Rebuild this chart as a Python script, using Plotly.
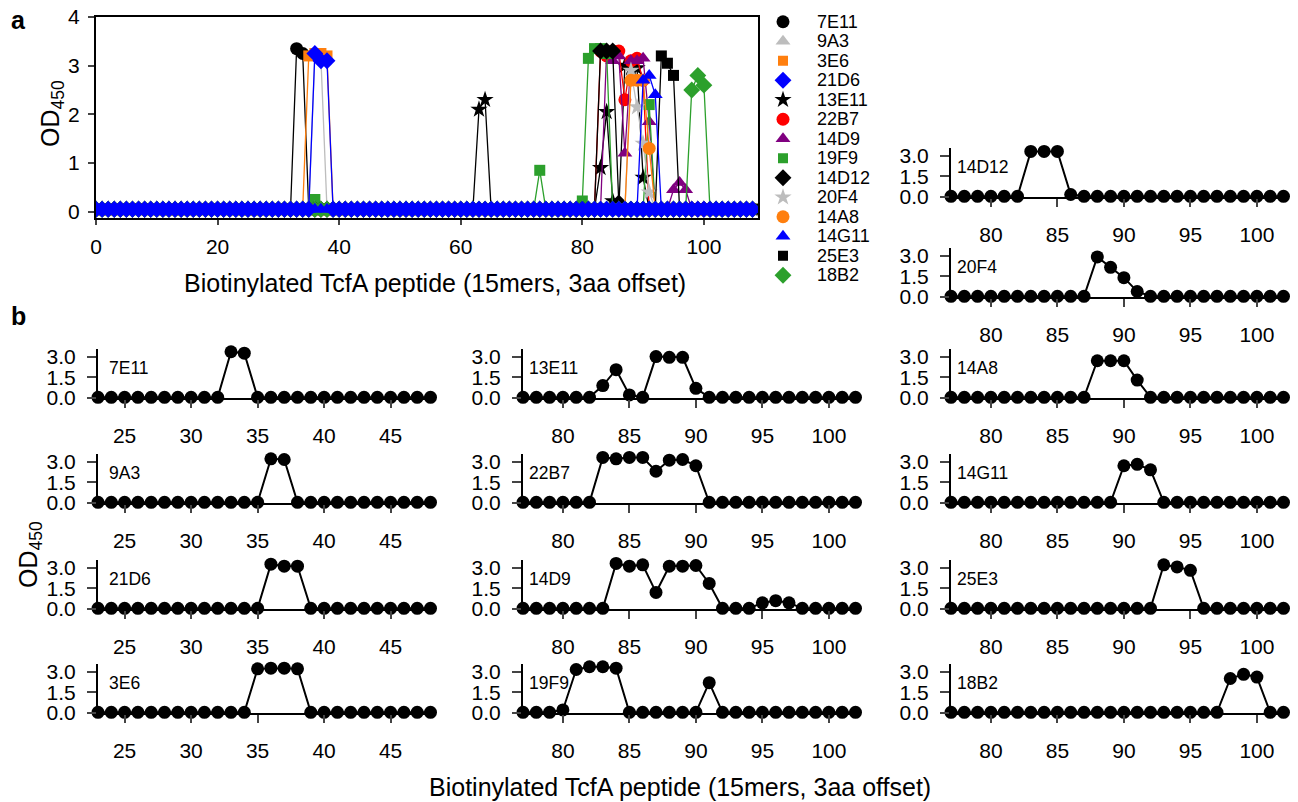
import plotly.graph_objects as go

W, H = 1298, 802
FONT = "Liberation Sans, Arial, Helvetica, sans-serif"

# ---------------- data ----------------
PEPTIDES = list(range(0, 109))
BASELINE_OD = 0.05

ANTIBODIES = ["7E11", "9A3", "3E6", "21D6", "13E11", "22B7", "14D9",
              "19F9", "14D12", "20F4", "14A8", "14G11", "25E3", "18B2"]
COLORS = ["#000000", "#bdbdbd", "#ff7f0e", "#0000ff", "#000000", "#ff0000", "#800080",
          "#2ca02c", "#000000", "#bdbdbd", "#ff7f0e", "#0000ff", "#000000", "#2ca02c"]
SYMBOLS = ["circle", "triangle-up", "square", "diamond", "star", "circle", "triangle-up",
           "square", "diamond", "star", "circle", "triangle-up", "square", "diamond"]

# (peptide, OD450) readings that differ from the baseline
PEAKS_7E11 = [(33, 3.35), (34, 3.25)]
PEAKS_9A3 = [(36, 3.2), (37, 3.15)]
PEAKS_3E6 = [(35, 3.2), (36, 3.25), (37, 3.25), (38, 3.2)]
PEAKS_21D6 = [(36, 3.25), (37, 3.1), (38, 3.1)]
PEAKS_13E11 = [(63, 2.1), (64, 2.3), (83, 0.9), (84, 2.05), (85, 0.22), (87, 3.0),
               (88, 2.95), (89, 2.95), (90, 0.7)]
PEAKS_22B7 = [(83, 3.3), (84, 3.2), (85, 3.3), (86, 3.3), (87, 2.3), (88, 3.1),
              (89, 3.15), (90, 2.7)]
PEAKS_14D9 = [(84, 3.3), (85, 3.1), (86, 3.2), (87, 1.2), (88, 3.1), (89, 3.1),
              (90, 3.15), (91, 1.85), (95, 0.45), (96, 0.6), (97, 0.45)]
PEAKS_19F9 = [(36, 0.25), (73, 0.85), (80, 0.22), (81, 3.15), (82, 3.35), (83, 3.35),
              (84, 3.25), (91, 2.2)]
PEAKS_14D12 = [(83, 3.3), (84, 3.3), (85, 3.3), (86, 0.18)]
PEAKS_20F4 = [(88, 2.9), (89, 2.15), (90, 1.4), (91, 0.4)]
PEAKS_14A8 = [(88, 2.7), (89, 2.7), (90, 2.7), (91, 1.3)]
PEAKS_14G11 = [(90, 2.7), (91, 2.8), (92, 2.4)]
PEAKS_25E3 = [(93, 3.2), (94, 3.05), (95, 2.8)]
PEAKS_18B2 = [(98, 2.5), (99, 2.8), (100, 2.6)]

PEAKS = [PEAKS_7E11, PEAKS_9A3, PEAKS_3E6, PEAKS_21D6, PEAKS_13E11, PEAKS_22B7,
         PEAKS_14D9, PEAKS_19F9, PEAKS_14D12, PEAKS_20F4, PEAKS_14A8, PEAKS_14G11,
         PEAKS_25E3, PEAKS_18B2]

# panel a axis ticks
TICKS_A_X = [0, 20, 40, 60, 80, 100]
TICKS_A_Y = [0, 1, 2, 3, 4]

# panel b layout / ticks
B_LEFT = ["7E11", "9A3", "21D6", "3E6"]
B_MIDDLE = ["13E11", "22B7", "14D9", "19F9"]
B_RIGHT = ["14A8", "14G11", "25E3", "18B2"]
B_TOP_RIGHT = ["14D12", "20F4"]
WINDOW_LEFT = [23, 48]
WINDOW_RIGHT = [77, 102]
TICKS_LEFT = [25, 30, 35, 40, 45]
TICKS_RIGHT = [80, 85, 90, 95, 100]
TICKS_B_Y = [0, 1.5, 3.0]
TICKTEXT_B_Y = ["0.0", "1.5", "3.0"]

X_TITLE = "Biotinylated TcfA peptide (15mers, 3aa offset)"
Y_TITLE = "OD<sub>450</sub>"


def series(peaks):
    vals = {p: v for p, v in peaks}
    return [vals.get(p, BASELINE_OD) for p in PEPTIDES]


SERIES = {ab: series(pk) for ab, pk in zip(ANTIBODIES, PEAKS)}


def fx(px):
    return px / W


def fy(px):
    return 1 - px / H


fig = go.Figure()
layout = dict(
    width=W, height=H, margin=dict(l=0, r=0, t=0, b=0, pad=0, autoexpand=False),
    paper_bgcolor="white", plot_bgcolor="white",
    font=dict(family=FONT, color="black"),
    showlegend=False,
)
annotations = []

# ---------------- panel a ----------------
draw_order = ["7E11", "9A3", "3E6", "13E11", "22B7", "14D9", "19F9", "14D12",
              "20F4", "14A8", "25E3", "18B2", "14G11", "21D6"]
for ab in draw_order:
    i = ANTIBODIES.index(ab)
    fig.add_trace(go.Scatter(
        x=PEPTIDES, y=SERIES[ab], mode="lines+markers", name=ab,
        line=dict(color=COLORS[i], width=1.3),
        marker=dict(symbol=SYMBOLS[i], size=13 if SYMBOLS[i] != "square" else 11,
                    color=COLORS[i]),
        xaxis="x", yaxis="y", showlegend=False, hoverinfo="skip",
    ))

layout["xaxis"] = dict(
    domain=[fx(96), fx(758)], range=[0, 108.9], anchor="y",
    showline=True, linecolor="black", linewidth=1.5, mirror=True,
    ticks="outside", ticklen=5, tickwidth=1.5, tickvals=TICKS_A_X,
    tickfont=dict(size=21), showgrid=False, zeroline=False, ticklabelstandoff=4,
    automargin=False,
)
layout["yaxis"] = dict(
    domain=[fy(218), fy(17)], range=[-0.13, 4.0], anchor="x",
    showline=True, linecolor="black", linewidth=2, mirror=True,
    ticks="outside", ticklen=6, tickwidth=1.5, tickvals=TICKS_A_Y,
    tickfont=dict(size=21), showgrid=False, zeroline=False, ticklabelstandoff=4,
    automargin=False,
)

annotations.append(dict(text="<b>a</b>", x=fx(18), y=fy(20), xref="paper", yref="paper",
                        showarrow=False, font=dict(size=25), xanchor="center", yanchor="middle"))
annotations.append(dict(text="<b>b</b>", x=fx(18), y=fy(316), xref="paper", yref="paper",
                        showarrow=False, font=dict(size=25), xanchor="center", yanchor="middle"))
annotations.append(dict(text=X_TITLE, x=fx(435), y=fy(283), xref="paper", yref="paper",
                        showarrow=False, font=dict(size=25), xanchor="center", yanchor="middle"))
annotations.append(dict(text=Y_TITLE, x=fx(52), y=fy(114), xref="paper", yref="paper",
                        showarrow=False, font=dict(size=25), textangle=-90,
                        xanchor="center", yanchor="middle"))
annotations.append(dict(text=X_TITLE, x=fx(680), y=fy(787), xref="paper", yref="paper",
                        showarrow=False, font=dict(size=25), xanchor="center", yanchor="middle"))
annotations.append(dict(text=Y_TITLE, x=fx(30), y=fy(555), xref="paper", yref="paper",
                        showarrow=False, font=dict(size=25), textangle=-90,
                        xanchor="center", yanchor="middle"))

# ---------------- legend (hidden helper axis) ----------------
layout["xaxis16"] = dict(domain=[fx(770), fx(880)], range=[0, 110], visible=False,
                         anchor="y16", fixedrange=True, automargin=False)
layout["yaxis16"] = dict(domain=[fy(285), fy(12)], range=[13.5, -0.5], visible=False,
                         anchor="x16", fixedrange=True, automargin=False)
for i, ab in enumerate(ANTIBODIES):
    fig.add_trace(go.Scatter(
        x=[13], y=[i], mode="markers",
        marker=dict(symbol=SYMBOLS[i], color=COLORS[i],
                    size=10 if SYMBOLS[i] == "square" else 13),
        xaxis="x16", yaxis="y16", showlegend=False, hoverinfo="skip", cliponaxis=False,
    ))
    annotations.append(dict(text=ab, x=45, y=i, xref="x16", yref="y16", showarrow=False,
                            xanchor="left", yanchor="middle", font=dict(size=18)))

# ---------------- panel b ----------------
PX_PER_UNIT = 13.3
PANEL_H = 49
Y_TOP = 3.55
col_axis_px = {"left": 98, "middle": 523, "right": 951}
col_label_shift = {"left": 9, "middle": 4, "right": 4}
row_zero_px = [398, 503, 609, 713]
top_right_zero_px = [197, 297]

panels = []
for r, ab in enumerate(B_LEFT):
    panels.append((ab, "left", row_zero_px[r], WINDOW_LEFT, TICKS_LEFT))
for r, ab in enumerate(B_MIDDLE):
    panels.append((ab, "middle", row_zero_px[r], WINDOW_RIGHT, TICKS_RIGHT))
for r, ab in enumerate(B_RIGHT):
    panels.append((ab, "right", row_zero_px[r], WINDOW_RIGHT, TICKS_RIGHT))
for r, ab in enumerate(B_TOP_RIGHT):
    panels.append((ab, "right", top_right_zero_px[r], WINDOW_RIGHT, TICKS_RIGHT))

for k, (ab, col, zero_px, win, ticks) in enumerate(panels):
    n = k + 2
    lo, hi = win
    hi_r = hi + 0.3
    x0 = col_axis_px[col]
    x1 = x0 + (hi_r - lo) * PX_PER_UNIT
    xs = [p for p in PEPTIDES if lo <= p <= hi]
    ys = [SERIES[ab][PEPTIDES.index(p)] for p in xs]
    fig.add_trace(go.Scatter(
        x=xs, y=ys, mode="lines+markers",
        line=dict(color="black", width=2),
        marker=dict(symbol="circle", size=13, color="black"),
        xaxis=f"x{n}", yaxis=f"y{n}", showlegend=False, hoverinfo="skip",
        cliponaxis=False,
    ))
    layout[f"xaxis{n}"] = dict(
        domain=[fx(x0), fx(x1)], range=[lo, hi_r], anchor=f"y{n}",
        showline=True, linecolor="black", linewidth=2,
        ticks="outside", ticklen=8, tickwidth=2, tickvals=ticks,
        tickfont=dict(size=21), showgrid=False, zeroline=False, ticklabelstandoff=10,
        automargin=False,
    )
    layout[f"yaxis{n}"] = dict(
        domain=[fy(zero_px), fy(zero_px - PANEL_H)], range=[0, Y_TOP], anchor=f"x{n}",
        showline=True, linecolor="black", linewidth=2,
        ticks="outside", ticklen=9, tickwidth=2, tickvals=TICKS_B_Y, ticktext=TICKTEXT_B_Y,
        tickfont=dict(size=21), showgrid=False, zeroline=False, ticklabelstandoff=7,
        automargin=False,
    )
    annotations.append(dict(text=ab, x=lo, y=2.2, xref=f"x{n}", yref=f"y{n}",
                            showarrow=False, xanchor="left", yanchor="middle",
                            xshift=col_label_shift[col], font=dict(size=17.5)))

layout["annotations"] = annotations
fig.update_layout(**layout)
fig.write_html("out.html", config={"displayModeBar": False})

# remove the browser's default page margin so the figure sits at the page origin
with open("out.html", "r", encoding="utf-8") as fh:
    html = fh.read()
html = html.replace("<head>", "<head><style>html,body{margin:0;padding:0;overflow:hidden;}</style>", 1)
with open("out.html", "w", encoding="utf-8") as fh:
    fh.write(html)
